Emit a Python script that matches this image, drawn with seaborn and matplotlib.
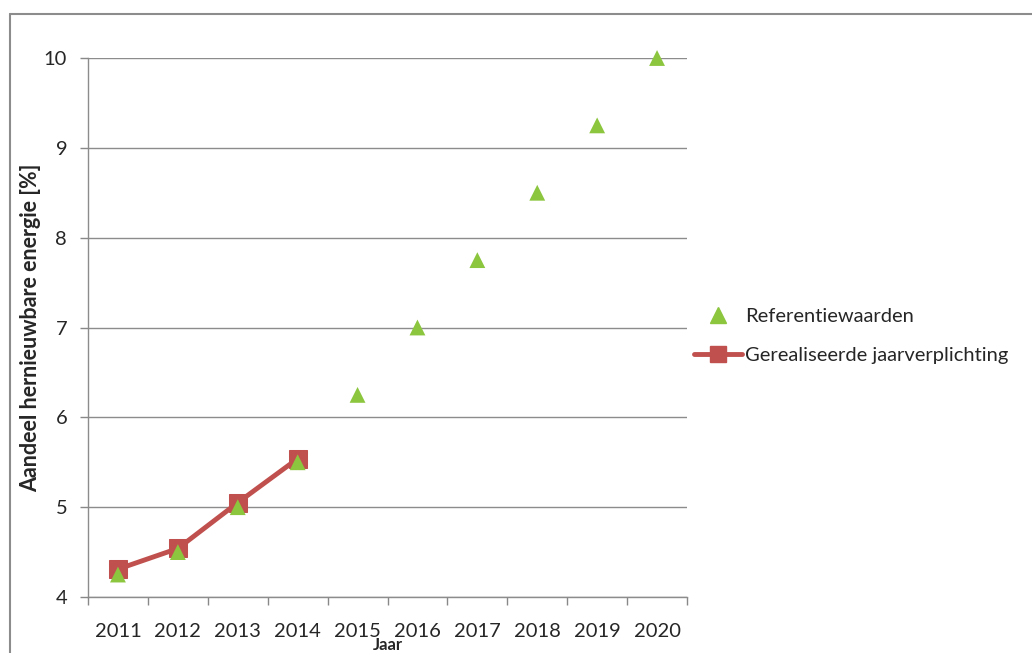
import pandas as pd
import numpy as np
import matplotlib
matplotlib.use('Agg')
import matplotlib.pyplot as plt
import seaborn as sns
from matplotlib.lines import Line2D

# Data
jaren = ['2011', '2012', '2013', '2014', '2015', '2016', '2017', '2018', '2019', '2020']
referentie = [4.25, 4.5, 5.0, 5.5, 6.25, 7.0, 7.75, 8.5, 9.25, 10.0]
jaren_realisatie = ['2011', '2012', '2013', '2014']
gerealiseerd = [4.31, 4.54, 5.05, 5.54]

df_ref = pd.DataFrame({'pos': range(len(jaren)), 'waarde': referentie})
df_real = pd.DataFrame({'pos': [jaren.index(j) for j in jaren_realisatie], 'waarde': gerealiseerd})

sns.set_style('white')
plt.rcParams['font.family'] = ['Lato', 'DejaVu Sans']

groen = '#8cc63f'
rood = '#c0504d'

fig = plt.figure(figsize=(10.32, 6.53), dpi=100)
ax = fig.add_axes([88/1032, 1 - 597/653, (687 - 88)/1032, (597 - 58)/653])

sns.lineplot(data=df_real, x='pos', y='waarde', ax=ax, color=rood, linewidth=3.5,
             marker='s', markersize=13, markeredgecolor=rood, zorder=3)
sns.scatterplot(data=df_ref, x='pos', y='waarde', ax=ax, color=groen, marker='^',
                s=130, edgecolor='none', zorder=4, clip_on=False)

ax.set_xlim(-0.5, len(jaren) - 0.5)
ax.set_ylim(4, 10)
ax.set_yticks(range(4, 11))
ax.set_xticks(range(len(jaren)))
ax.set_xticklabels(jaren)
ax.set_xticks(np.arange(-0.5, len(jaren)), minor=True)
ax.tick_params(axis='x', which='major', length=0, labelsize=14.5, pad=19)
ax.tick_params(axis='x', which='minor', length=6, color='#888888', width=1, direction='out', bottom=True)
ax.tick_params(axis='y', length=6, color='#888888', width=1, direction='out', left=True, labelsize=14.5, pad=9)

ax.grid(axis='y', color='#8c8c8c', linewidth=1)
ax.set_axisbelow(True)
for s in ['top', 'right']:
    ax.spines[s].set_visible(False)
for s in ['left', 'bottom']:
    ax.spines[s].set_color('#8c8c8c')
    ax.spines[s].set_linewidth(1)

ax.set_xlabel('Jaar', fontsize=12, fontweight='bold', va='top')
ax.xaxis.set_label_coords(0.5, (597 - 637) / 539)
ax.set_ylabel('Aandeel hernieuwbare energie [%]', fontsize=15.5, fontweight='bold', va='center')
ax.yaxis.set_label_coords(-(88 - 31) / 599, 0.5)

handles = [
    Line2D([], [], linestyle='none', marker='^', color=groen, markersize=11),
    Line2D([], [], color=rood, linewidth=3.5, marker='s', markersize=12),
]
fig.legend(handles, ['Referentiewaarden', 'Gerealiseerde jaarverplichting'],
           loc='center left', bbox_to_anchor=(676/1032, 1 - 336/653), frameon=False,
           fontsize=14.5, handlelength=2.4, handletextpad=0.15, labelspacing=1.1)

# Outer frame like the chart area
fig.add_artist(Line2D([10/1032, 1], [1 - 14/653, 1 - 14/653], transform=fig.transFigure, color='#8c8c8c', linewidth=1.5))
fig.add_artist(Line2D([10/1032, 10/1032], [1 - 14/653, 0], transform=fig.transFigure, color='#8c8c8c', linewidth=1.5))

fig.savefig('out.png', dpi=100)
